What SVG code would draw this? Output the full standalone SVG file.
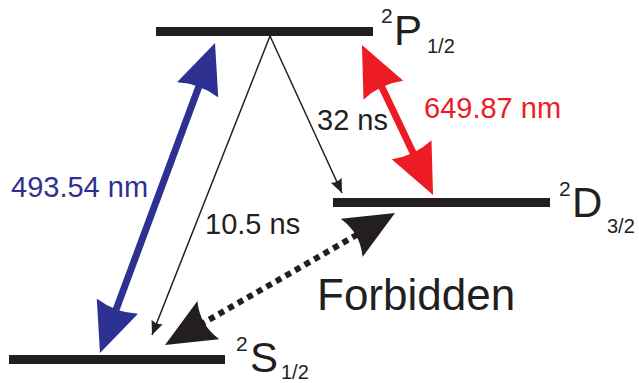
<svg xmlns="http://www.w3.org/2000/svg" width="639" height="383" viewBox="0 0 639 383">
<style>
.bar{fill:#231f20}
.lbl{font-family:"Liberation Sans",Arial,sans-serif;fill:#231f20}
.big{font-size:42px}
.sup{font-size:21px}
.sub{font-size:20px}
.t{font-size:29px}
.thin{stroke:#231f20;stroke-width:1.5;fill:none}
</style>
<defs>
<marker id="hBlue" markerUnits="userSpaceOnUse" viewBox="0 0 50 44" refX="10" refY="22" markerWidth="50" markerHeight="44" orient="auto-start-reverse"><path d="M0,0 L50,22 L0,44 Q7,22 0,0 Z" fill="#2e3192"/></marker>
<marker id="hRed" markerUnits="userSpaceOnUse" viewBox="0 0 50 44" refX="10" refY="22" markerWidth="50" markerHeight="44" orient="auto-start-reverse"><path d="M0,0 L50,22 L0,44 Q7,22 0,0 Z" fill="#ed1c24"/></marker>
<marker id="hBlack" markerUnits="userSpaceOnUse" viewBox="0 0 50 44" refX="10" refY="22" markerWidth="50" markerHeight="44" orient="auto-start-reverse"><path d="M0,0 L50,22 L0,44 Q10,22 0,0 Z" fill="#231f20"/></marker>
<marker id="hThin" markerUnits="userSpaceOnUse" viewBox="0 0 14 12" refX="14" refY="6" markerWidth="14" markerHeight="12" orient="auto"><path d="M0,0 L14,6 L0,12 Q3,6 0,0 Z" fill="#231f20"/></marker>
</defs>
<g id="level-P">
<rect class="bar" x="156" y="27" width="217" height="9"/>
<text class="lbl sup" x="381" y="23">2</text>
<text class="lbl big" x="394" y="45">P</text>
<text class="lbl sub" x="427" y="53">1/2</text>
</g>
<g id="level-D">
<rect class="bar" x="333" y="198" width="217" height="9"/>
<text class="lbl sup" x="559" y="196">2</text>
<text class="lbl big" x="572" y="217">D</text>
<text class="lbl sub" x="607" y="233">3/2</text>
</g>
<g id="level-S">
<rect class="bar" x="9" y="355" width="216" height="9"/>
<text class="lbl sup" x="236" y="351">2</text>
<text class="lbl big" x="250" y="372">S</text>
<text class="lbl sub" x="281" y="379">1/2</text>
</g>
<g id="connectors">
<line x1="113.9" y1="315.5" x2="201.1" y2="80.5" stroke="#2e3192" stroke-width="7" marker-start="url(#hBlue)" marker-end="url(#hBlue)"/>
<line x1="379.1" y1="81.2" x2="415.9" y2="158.8" stroke="#ed1c24" stroke-width="7" marker-start="url(#hRed)" marker-end="url(#hRed)"/>
<line x1="199.7" y1="325.1" x2="360.3" y2="232.9" stroke="#231f20" stroke-width="6" stroke-dasharray="6 5" marker-start="url(#hBlack)" marker-end="url(#hBlack)"/>
<line class="thin" x1="270" y1="36" x2="152" y2="335" marker-end="url(#hThin)"/>
<line class="thin" x1="270" y1="36" x2="342" y2="193" marker-end="url(#hThin)"/>
</g>
<g id="labels">
<text class="lbl t" x="11" y="197" style="fill:#2e3192">493.54 nm</text>
<text class="lbl t" x="205" y="234">10.5 ns</text>
<text class="lbl t" x="317" y="130">32 ns</text>
<text class="lbl t" x="424" y="118" style="fill:#ed1c24">649.87 nm</text>
<text class="lbl" x="317" y="310" style="font-size:44px">Forbidden</text>
</g>
</svg>
